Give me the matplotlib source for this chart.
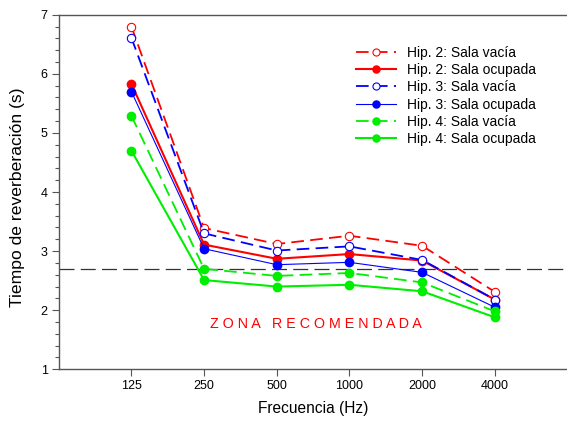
import matplotlib
matplotlib.use("Agg")
import matplotlib.pyplot as plt
from matplotlib.ticker import FixedLocator, NullFormatter, MultipleLocator

plt.rcParams['font.family'] = ['Liberation Sans', 'DejaVu Sans']

freqs = [125, 250, 500, 1000, 2000, 4000]
freq_labels = ["125", "250", "500", "1000", "2000", "4000"]

hip2_vacia = [6.80, 3.39, 3.12, 3.26, 3.09, 2.31]
hip2_ocupada = [5.83, 3.11, 2.87, 2.95, 2.84, 2.18]
hip3_vacia = [6.61, 3.30, 3.01, 3.08, 2.85, 2.18]
hip3_ocupada = [5.70, 3.04, 2.77, 2.81, 2.64, 2.05]
hip4_vacia = [5.29, 2.70, 2.58, 2.63, 2.47, 1.98]
hip4_ocupada = [4.70, 2.51, 2.40, 2.43, 2.32, 1.88]

ref_level = 2.69

fig = plt.figure(figsize=(5.67, 4.21), dpi=100)
ax = fig.add_axes([58.7/567, 1-369.3/421, (567.5-58.7)/567, (369.3-14.7)/421])

ax.set_xscale('log', base=2)
ax.axhline(ref_level, color='#333333', lw=0.9, dashes=(12, 5))

dash = (7, 3.5)
ax.plot(freqs, hip2_vacia, color='#ff0000', lw=1.3, dashes=dash, marker='o', ms=6,
        mfc='white', mec='#ff0000', mew=0.8, label='Hip. 2: Sala vacía')
ax.plot(freqs, hip2_ocupada, color='#ff0000', lw=1.5, marker='o', ms=6,
        mfc='#ff0000', mec='#ff0000', label='Hip. 2: Sala ocupada')
ax.plot(freqs, hip3_vacia, color='#0000ff', lw=1.3, dashes=dash, marker='o', ms=6,
        mfc='white', mec='#0000ff', mew=0.8, label='Hip. 3: Sala vacía')
ax.plot(freqs, hip3_ocupada, color='#0000ff', lw=0.8, marker='o', ms=6,
        mfc='#0000ff', mec='#0000ff', label='Hip. 3: Sala ocupada')
ax.plot(freqs, hip4_vacia, color='#00ee00', lw=1.3, dashes=dash, marker='o', ms=6,
        mfc='#00ee00', mec='#00ee00', label='Hip. 4: Sala vacía')
ax.plot(freqs, hip4_ocupada, color='#00ee00', lw=1.5, marker='o', ms=6,
        mfc='#00ee00', mec='#00ee00', label='Hip. 4: Sala ocupada')

ax.set_xlim(62.5, 8000)
ax.set_ylim(1, 7)
ax.xaxis.set_major_locator(FixedLocator(freqs))
ax.xaxis.set_minor_locator(FixedLocator([]))
ax.set_xticklabels(freq_labels)
ax.xaxis.set_minor_formatter(NullFormatter())
ax.yaxis.set_major_locator(MultipleLocator(1))
ax.yaxis.set_minor_locator(MultipleLocator(0.2))

for s in ax.spines.values():
    s.set_color('#555555')
    s.set_linewidth(1.0)

ax.tick_params(axis='both', which='major', direction='out', length=5, width=0.8,
               color='#555555', labelsize=9, pad=3)
ax.tick_params(axis='y', which='minor', direction='out', length=3, width=0.8, color='#555555')

ax.set_xlabel('Frecuencia (Hz)', fontsize=11.2, labelpad=6)
ax.set_ylabel('Tiempo de reverberación (s)', fontsize=12.6, labelpad=7)
ax.yaxis.set_label_coords(-0.066, 0.485)

ax.text(0.505, 0.127, 'Z O N A   R E C O M E N D A D A', transform=ax.transAxes,
        color='#ff0000', fontsize=10.3, ha='center', va='center')

leg = ax.legend(loc='upper right', bbox_to_anchor=(0.962, 0.948), frameon=False,
                fontsize=10, handlelength=2.9, numpoints=1, labelspacing=0.24,
                handletextpad=0.75, markerscale=0.85)

fig.savefig('out.png', dpi=100)
